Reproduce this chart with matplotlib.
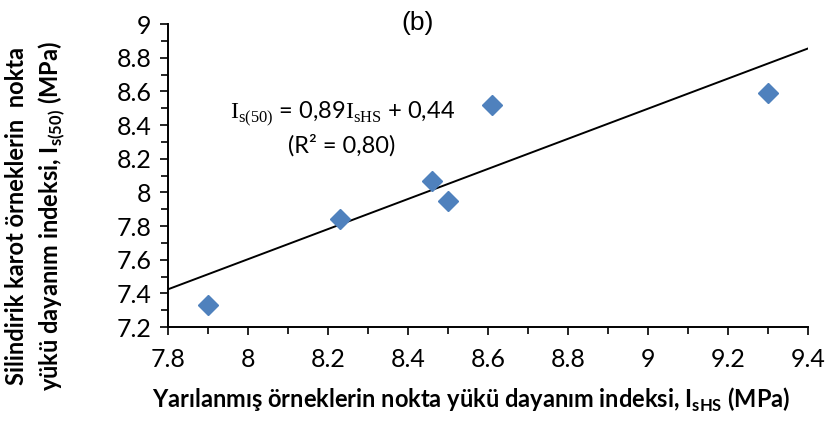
import numpy as np
import matplotlib
matplotlib.use("Agg")
import matplotlib.pyplot as plt
from matplotlib.ticker import MultipleLocator

plt.rcParams['font.family'] = ['Lato', 'DejaVu Sans']
plt.rcParams['mathtext.fontset'] = 'custom'
plt.rcParams['mathtext.rm'] = 'Lato'
plt.rcParams['mathtext.bf'] = 'Lato:bold'
plt.rcParams['mathtext.sf'] = 'Liberation Serif'

# Point load index of split specimens (x) vs cylindrical core specimens (y), MPa
i_shs = [7.90, 8.23, 8.46, 8.50, 8.61, 9.30]
i_s50 = [7.33, 7.84, 8.07, 7.95, 8.52, 8.59]

x_ticks = [7.8, 8.0, 8.2, 8.4, 8.6, 8.8, 9.0, 9.2, 9.4]
x_tick_labels = ['7.8', '8', '8.2', '8.4', '8.6', '8.8', '9', '9.2', '9.4']
y_ticks = [7.2, 7.4, 7.6, 7.8, 8.0, 8.2, 8.4, 8.6, 8.8, 9.0]
y_tick_labels = ['7.2', '7.4', '7.6', '7.8', '8', '8.2', '8.4', '8.6', '8.8', '9']

fig = plt.figure(figsize=(8.29, 4.22), dpi=100)
ax = fig.add_axes([0.2027, 0.2251, 0.772, 0.718])

# least-squares trend line across the full x range
slope, intercept = np.polyfit(i_shs, i_s50, 1)
xl = np.array([x_ticks[0], x_ticks[-1]])
ax.plot(xl, slope * xl + intercept, color='black', lw=1.4, zorder=2)

ax.plot(i_shs, i_s50, linestyle='none', marker='D', markersize=10.5,
        color='#4F81BD', markeredgecolor='#4F81BD', zorder=3)

ax.set_xlim(x_ticks[0], x_ticks[-1])
ax.set_ylim(y_ticks[0], y_ticks[-1])
ax.set_xticks(x_ticks)
ax.set_xticklabels(x_tick_labels)
ax.set_yticks(y_ticks)
ax.set_yticklabels(y_tick_labels)
ax.xaxis.set_minor_locator(MultipleLocator(0.1))
ax.yaxis.set_minor_locator(MultipleLocator(0.1))

for s in ['top', 'right']:
    ax.spines[s].set_visible(False)
for s in ['left', 'bottom']:
    ax.spines[s].set_linewidth(1.4)
    ax.spines[s].set_color('black')

ax.tick_params(which='both', direction='out', width=1.2, labelsize=18, colors='black')
ax.tick_params(which='major', length=6)
ax.tick_params(which='minor', length=5)
ax.tick_params(axis='x', pad=9)
ax.tick_params(axis='y', pad=6)

ax.set_xlabel(r'Yarılanmış örneklerin nokta yükü dayanım indeksi, $\mathbf{I}_{\mathbf{sHS}}$ (MPa)',
              fontsize=17, fontweight='bold')
ax.xaxis.set_label_coords(0.473, -0.195)
ax.set_ylabel('Silindirik karot örneklerin  nokta\n'
              r'yükü dayanım indeksi, $\mathbf{I}_{\mathbf{s(50)}}$ (MPa)',
              fontsize=17, fontweight='bold', linespacing=1.35)
ax.yaxis.set_label_coords(-0.158, 0.368)

ax.text(8.425, 9.005, '(b)', fontsize=19, family='Liberation Sans',
        ha='center', va='center')
ax.text(8.235, 8.47, r'$\mathsf{I}_{\mathsf{s(50)}}$ = 0,89$\mathsf{I}_{\mathsf{sHS}}$ + 0,44',
        fontsize=17, ha='center', va='center')
ax.text(8.235, 8.28, '(R² = 0,80)', fontsize=17, ha='center', va='center')

fig.savefig('out.png', dpi=100)
